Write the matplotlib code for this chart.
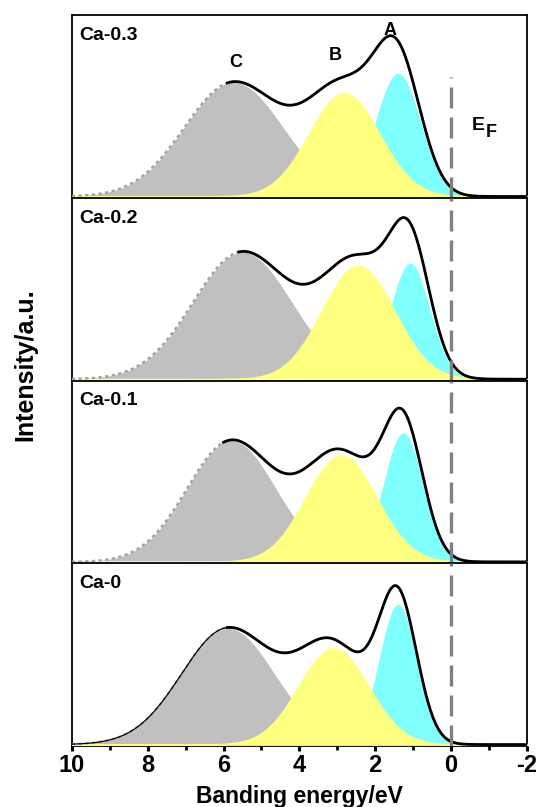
import numpy as np
import matplotlib.pyplot as plt
from matplotlib import rc

rc('font', **{'family': 'sans-serif', 'sans-serif': ['Liberation Sans', 'DejaVu Sans'], 'weight': 'bold'})

# fitted peak parameters (intensity in arbitrary units)
labels = ['Ca-0.3', 'Ca-0.2', 'Ca-0.1', 'Ca-0']
gray_center = [5.73, 5.50, 5.79, 5.88]
gray_height = [114, 127, 121, 116]
gray_sigma = [1.30, 1.30, 1.17, 1.23]
yellow_center = [2.82, 2.45, 2.90, 3.10]
yellow_height = [103, 113, 106, 96]
yellow_sigma = [0.93, 0.95, 0.93, 0.92]
cyan_center = [1.40, 1.08, 1.26, 1.40]
cyan_height = [123, 116, 129, 140]
cyan_sigma = [0.60, 0.52, 0.52, 0.50]
fit_start = [5.9, 5.6, 6.0, 10.0]   # where the thick fit line begins
thin_until = 5.9                    # Ca-0: thin fit line on the high-energy side

peak_names = ['C', 'B', 'A']
peak_x = [5.67, 3.05, 1.62]
peak_y = [134, 141, 166]

xticks = [10, 8, 6, 4, 2, 0, -2]

E = np.linspace(10, -2, 601)


def gauss(x, c, h, s):
    return h * np.exp(-0.5 * ((x - c) / s) ** 2)


fig, axes = plt.subplots(4, 1, sharex=True)
fig.set_size_inches(5.36, 8.07)
plt.subplots_adjust(left=0.134, right=0.983, top=0.981, bottom=0.0755, hspace=0)

for i, ax1 in enumerate(axes):
    g = gauss(E, gray_center[i], gray_height[i], gray_sigma[i])
    y = gauss(E, yellow_center[i], yellow_height[i], yellow_sigma[i])
    c = gauss(E, cyan_center[i], cyan_height[i], cyan_sigma[i])
    tot = g + y + c

    ax1.fill_between(E, 0, g, color='#c0c0c0', lw=0, zorder=1)
    ax1.fill_between(E, 0, c, color='#80ffff', lw=0, zorder=2)
    ax1.fill_between(E, 0, y, facecolor='#ffff80', edgecolor='#ffff80', lw=1.2, zorder=3)

    ax1.plot(E, tot, c='#a0a0a0', lw=1.6, ls=(0, (1.5, 1.5)), zorder=4)
    if fit_start[i] >= 10:
        m1 = E >= thin_until
        ax1.plot(E[m1], tot[m1], c='k', lw=0.9, zorder=5)
        m = E <= thin_until
    else:
        m = E <= fit_start[i]
    ax1.plot(E[m], tot[m], c='k', lw=2.0, zorder=5)

    ymax = 0.66 if i == 0 else 1.0
    ax1.axvline(0, ymin=0, ymax=ymax, c='#808080', lw=2.4, ls=(0, (6.3, 2.7)), zorder=6)

    ax1.text(0.016, 0.89, labels[i], transform=ax1.transAxes, fontsize=14,
             fontweight='bold', ha='left', va='center')

    ax1.set_xlim(10, -2)
    ax1.set_ylim(-1.5, 181)
    ax1.set_yticks([])
    for sp in ax1.spines.values():
        sp.set_linewidth(1.3)
    ax1.tick_params(axis='x', which='both', bottom=False, labelbottom=False)

ax0 = axes[0]
for n, px, py in zip(peak_names, peak_x, peak_y):
    ax0.text(px, py, n, fontsize=13, fontweight='bold', ha='center', va='center')
ax0.text(-0.55, 71, 'E', fontsize=14, fontweight='bold', ha='left', va='center')
ax0.text(-0.92, 64, 'F', fontsize=13, fontweight='bold', ha='left', va='center')

ax = axes[-1]
ax.set_xticks(xticks)
ax.set_xticks([9, 7, 5, 3, 1, -1], minor=True)
ax.set_xticklabels([str(t) for t in xticks])
ax.tick_params(axis='x', which='major', bottom=True, labelbottom=True, direction='out',
               length=3.5, width=2.2, labelsize=17, pad=2)
ax.tick_params(axis='x', which='minor', bottom=True, direction='out', length=3, width=2)
ax.set_xlabel('Banding energy/eV', fontsize=16.5, fontweight='bold', labelpad=6)

fig.text(25 / 536, 1 - 365 / 807, 'Intensity/a.u.', rotation=90, fontsize=18,
         fontweight='bold', ha='center', va='center')

plt.savefig('out.png', dpi=100)
